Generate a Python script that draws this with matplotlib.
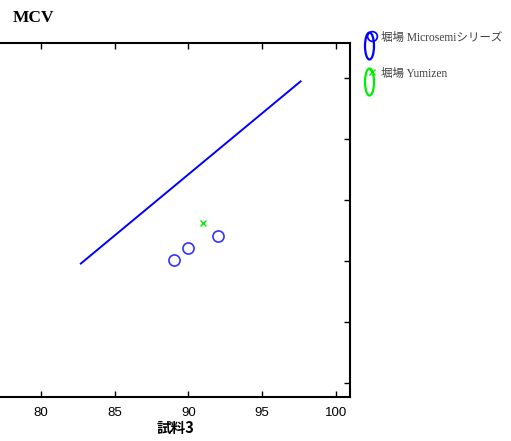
import matplotlib
matplotlib.use("Agg")
import matplotlib.pyplot as plt
from matplotlib.patches import Ellipse
from matplotlib.lines import Line2D

# MCV comparison data
microsemi_x = [89, 90, 92]
microsemi_y = [85.1, 86.1, 87.1]
yumizen_x = [91]
yumizen_y = [88.1]
fit_x = [82.7, 97.6]
fit_y = [84.8, 99.75]
x_ticks = [80, 85, 90, 95, 100]
y_ticks = [75, 80, 85, 90, 95, 100]
legend_labels = ["堀場 Microsemiシリーズ", "堀場 Yumizen"]

W, H = 511, 441
fig = plt.figure(figsize=(W / 100, H / 100), dpi=100)


def fx(px):
    return px / W


def fy(py):
    return 1 - py / H


# axes box runs off the left edge of the figure
left_px, right_px, top_px, bot_px = -32.75, 350, 43, 397
ax = fig.add_axes([fx(left_px), fy(bot_px), fx(right_px - left_px), (bot_px - top_px) / H])
ax.set_xlim(75, 100.95)
ax.set_ylim(73.85, 102.9)

ax.plot(fit_x, fit_y, color="#0000ff", lw=1.4)
ax.plot(microsemi_x, microsemi_y, "o", ms=8, mfc="none", mec="#3333ff", mew=1.2)
ax.plot(yumizen_x, yumizen_y, "x", ms=5, mec="#00ee00", mew=1.0)

ax.set_xticks(x_ticks)
ax.set_yticks(y_ticks)
ax.tick_params(direction="in", length=4, width=1, top=True, right=True,
               labelsize=9.5, pad=7)
ax.set_yticklabels([])
for lbl in ax.get_xticklabels():
    lbl.set_fontfamily("Liberation Sans")
for sp in ax.spines.values():
    sp.set_linewidth(1.5)

ax.set_xlabel("試料3", family=["Noto Sans CJK JP", "DejaVu Sans"],
              fontweight="bold", fontsize=10.5)
ax.xaxis.set_label_coords((175 - left_px) / (right_px - left_px), -0.065)

fig.text(fx(13), fy(17.5), "MCV", family="Liberation Serif", fontweight="bold",
         fontsize=12.5, va="center", ha="left")

# legend drawn outside the axes
legend_colors = ["#0000ff", "#00ee00"]
legend_rows = [46, 82]
for lab, col, yc in zip(legend_labels, legend_colors, legend_rows):
    fig.patches.append(Ellipse((fx(369.5), fy(yc)), 9 / W, 27 / H, fill=False,
                               ec=col, lw=1.6, transform=fig.transFigure))
    fig.text(fx(381), fy(yc - 8), lab,
             family=["Liberation Serif", "Noto Sans CJK JP", "DejaVu Sans"],
             fontsize=8.3, color="#404040", va="center", ha="left")
fig.lines.append(Line2D([fx(372)], [fy(36)], marker="o", ms=7, mfc="none",
                        mec="#0000ff", mew=1.2, transform=fig.transFigure))
fig.lines.append(Line2D([fx(372)], [fy(72)], marker="x", ms=5,
                        mec="#00ee00", mew=1.0, transform=fig.transFigure))

fig.savefig("out.png", dpi=100)
